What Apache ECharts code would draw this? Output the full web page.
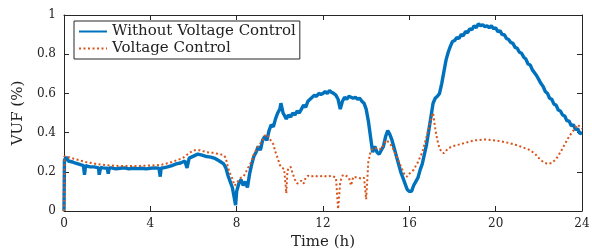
<!DOCTYPE html>
<html>
<head>
<meta charset="utf-8">
<script src="https://cdn.jsdelivr.net/npm/echarts@6/dist/echarts.min.js"></script>
<style>
  html, body { margin: 0; padding: 0; background: #fff; }
  #chart { width: 592px; height: 249px; }
</style>
</head>
<body>
<div id="chart"></div>
<script>
// time (h) and VUF (%)
const blueTime = [0, 0.02, 0.1, 0.2, 0.4, 0.5, 0.8, 0.9, 0.95, 1.0, 1.2, 1.4, 1.6, 1.63, 1.7, 1.8, 2.0, 2.05, 2.1, 2.2, 2.4, 2.6, 2.8, 3.0, 3.2, 3.4, 3.6, 3.8, 4.0, 4.2, 4.4, 4.46, 4.5, 4.6, 4.8, 5.0, 5.2, 5.4, 5.6, 5.7, 5.8, 6.0, 6.2, 6.4, 6.6, 6.8, 7.0, 7.2, 7.4, 7.5, 7.6, 7.7, 7.8, 7.9, 7.95, 8.0, 8.1, 8.2, 8.3, 8.4, 8.5, 8.6, 8.7, 8.8, 8.9, 9.0, 9.1, 9.2, 9.3, 9.4, 9.5, 9.6, 9.7, 9.8, 9.9, 10.0, 10.05, 10.15, 10.3, 10.4, 10.5, 10.6, 10.7, 10.8, 10.9, 11.0, 11.1, 11.2, 11.3, 11.4, 11.5, 11.6, 11.7, 11.8, 11.9, 12.0, 12.1, 12.2, 12.3, 12.4, 12.5, 12.6, 12.7, 12.8, 12.9, 13.0, 13.1, 13.2, 13.3, 13.4, 13.5, 13.6, 13.7, 13.8, 13.9, 14.0, 14.1, 14.2, 14.3, 14.4, 14.5, 14.6, 14.7, 14.8, 14.9, 15.0, 15.1, 15.2, 15.3, 15.4, 15.5, 15.6, 15.7, 15.8, 15.9, 16.0, 16.1, 16.2, 16.3, 16.4, 16.5, 16.6, 16.7, 16.8, 16.9, 17.0, 17.1, 17.2, 17.3, 17.4, 17.5, 17.6, 17.7, 17.8, 17.9, 18.0, 18.1, 18.2, 18.3, 18.4, 18.5, 18.6, 18.7, 18.8, 18.9, 19.0, 19.1, 19.2, 19.3, 19.4, 19.5, 19.6, 19.7, 19.8, 19.9, 20.0, 20.1, 20.2, 20.3, 20.4, 20.5, 20.6, 20.7, 20.8, 20.9, 21.0, 21.1, 21.2, 21.3, 21.4, 21.5, 21.6, 21.7, 21.8, 21.9, 22.0, 22.1, 22.2, 22.3, 22.4, 22.5, 22.6, 22.7, 22.8, 22.9, 23.0, 23.1, 23.2, 23.3, 23.4, 23.5, 23.6, 23.7, 23.8, 23.9, 24.0];
const blueVuf = [0, 0.26, 0.275, 0.255, 0.25, 0.245, 0.235, 0.232, 0.185, 0.232, 0.225, 0.225, 0.22, 0.185, 0.222, 0.22, 0.218, 0.19, 0.22, 0.22, 0.215, 0.218, 0.22, 0.215, 0.218, 0.216, 0.218, 0.215, 0.218, 0.22, 0.218, 0.175, 0.22, 0.22, 0.225, 0.232, 0.24, 0.245, 0.255, 0.22, 0.27, 0.28, 0.29, 0.285, 0.278, 0.275, 0.268, 0.255, 0.24, 0.22, 0.18, 0.15, 0.12, 0.06, 0.03, 0.1, 0.14, 0.16, 0.13, 0.15, 0.12, 0.19, 0.24, 0.28, 0.3, 0.33, 0.31, 0.36, 0.38, 0.36, 0.41, 0.44, 0.43, 0.47, 0.5, 0.52, 0.55, 0.5, 0.47, 0.49, 0.48, 0.5, 0.49, 0.51, 0.5, 0.52, 0.54, 0.53, 0.56, 0.57, 0.58, 0.59, 0.585, 0.6, 0.595, 0.6, 0.61, 0.6, 0.615, 0.605, 0.6, 0.59, 0.57, 0.52, 0.56, 0.58, 0.57, 0.585, 0.58, 0.575, 0.58, 0.57, 0.575, 0.56, 0.55, 0.52, 0.46, 0.38, 0.3, 0.33, 0.3, 0.29, 0.31, 0.33, 0.38, 0.41, 0.39, 0.36, 0.32, 0.28, 0.24, 0.2, 0.17, 0.14, 0.11, 0.1, 0.1, 0.13, 0.15, 0.17, 0.21, 0.24, 0.29, 0.34, 0.41, 0.48, 0.55, 0.575, 0.585, 0.6, 0.65, 0.71, 0.77, 0.81, 0.84, 0.865, 0.87, 0.885, 0.88, 0.9, 0.895, 0.915, 0.91, 0.93, 0.925, 0.945, 0.935, 0.955, 0.945, 0.95, 0.94, 0.945, 0.935, 0.945, 0.93, 0.935, 0.915, 0.92, 0.9, 0.9, 0.88, 0.875, 0.86, 0.855, 0.835, 0.83, 0.81, 0.805, 0.785, 0.775, 0.75, 0.745, 0.72, 0.705, 0.69, 0.67, 0.65, 0.635, 0.61, 0.6, 0.575, 0.57, 0.545, 0.54, 0.515, 0.51, 0.49, 0.485, 0.46, 0.46, 0.435, 0.44, 0.415, 0.42, 0.395, 0.4];

const orangeTime = [0, 0.02, 0.2, 0.5, 1.0, 1.5, 2.0, 2.5, 3.0, 3.5, 4.0, 4.5, 5.0, 5.5, 5.8, 6.0, 6.3, 6.6, 6.9, 7.2, 7.4, 7.5, 7.6, 7.7, 7.8, 7.9, 8.0, 8.1, 8.2, 8.3, 8.4, 8.5, 8.6, 8.7, 8.8, 8.9, 9.0, 9.1, 9.2, 9.3, 9.4, 9.5, 9.6, 9.7, 9.8, 9.9, 10.0, 10.1, 10.2, 10.3, 10.35, 10.4, 10.5, 10.6, 10.7, 10.8, 10.9, 11.0, 11.1, 11.2, 11.3, 11.4, 11.6, 11.8, 12.0, 12.2, 12.4, 12.6, 12.7, 12.8, 12.9, 13.0, 13.2, 13.3, 13.4, 13.6, 13.8, 13.9, 14.0, 14.1, 14.2, 14.3, 14.5, 14.7, 14.9, 15.0, 15.2, 15.4, 15.6, 15.8, 15.9, 16.0, 16.2, 16.4, 16.6, 16.8, 17.0, 17.1, 17.2, 17.3, 17.4, 17.5, 17.6, 17.8, 18.0, 18.5, 19.0, 19.5, 20.0, 20.5, 21.0, 21.5, 21.8, 22.0, 22.2, 22.4, 22.6, 22.8, 23.0, 23.2, 23.4, 23.6, 23.8, 24.0];
const orangeVuf = [0, 0.28, 0.275, 0.265, 0.25, 0.24, 0.233, 0.23, 0.23, 0.23, 0.232, 0.235, 0.25, 0.27, 0.295, 0.31, 0.31, 0.3, 0.297, 0.29, 0.285, 0.27, 0.22, 0.19, 0.165, 0.13, 0.14, 0.16, 0.17, 0.175, 0.19, 0.215, 0.235, 0.255, 0.29, 0.31, 0.33, 0.345, 0.36, 0.385, 0.39, 0.375, 0.355, 0.34, 0.3, 0.27, 0.235, 0.22, 0.215, 0.09, 0.2, 0.22, 0.225, 0.19, 0.16, 0.14, 0.145, 0.155, 0.14, 0.17, 0.18, 0.175, 0.18, 0.175, 0.18, 0.175, 0.18, 0.17, 0.01, 0.15, 0.18, 0.185, 0.17, 0.13, 0.175, 0.17, 0.165, 0.17, 0.06, 0.25, 0.3, 0.32, 0.32, 0.315, 0.36, 0.355, 0.33, 0.28, 0.23, 0.18, 0.175, 0.19, 0.21, 0.25, 0.3, 0.38, 0.47, 0.5, 0.42, 0.36, 0.32, 0.3, 0.295, 0.32, 0.33, 0.345, 0.36, 0.365, 0.36, 0.35, 0.335, 0.315, 0.295, 0.27, 0.25, 0.24, 0.245, 0.265, 0.3, 0.34, 0.38, 0.41, 0.44, 0.42];

const xTicks = [0, 4, 8, 12, 16, 20, 24];
const yTicks = [0, 0.2, 0.4, 0.6, 0.8, 1];

const pair = (ts, vs) => ts.map((t, i) => [t, vs[i]]);

const axisColor = '#262626';
const serif = 'DejaVu Serif';

const chart = echarts.init(document.getElementById('chart'));
chart.setOption({
  animation: false,
  grid: { left: 64, right: 10, top: 15, bottom: 38, outerBoundsMode: 'none' },
  legend: {
    left: 74,
    top: 21,
    orient: 'vertical',
    itemWidth: 28,
    itemHeight: 12,
    itemGap: 2,
    padding: [3, 4, 3, 4],
    borderColor: axisColor,
    borderWidth: 1,
    borderRadius: 0,
    backgroundColor: '#fff',
    itemStyle: { opacity: 0 },
    textStyle: { fontFamily: serif, fontSize: 15, color: '#222' },
    data: ['Without Voltage Control', 'Voltage Control']
  },
  xAxis: [{
    type: 'value', min: 0, max: 24, interval: 4,
    name: 'Time (h)', nameLocation: 'middle', nameGap: 24,
    nameTextStyle: { fontFamily: serif, fontSize: 15, color: '#222' },
    axisLine: { lineStyle: { color: axisColor, width: 1 } },
    axisTick: { inside: true, length: 5, lineStyle: { color: axisColor } },
    axisLabel: { fontFamily: serif, fontSize: 12, color: '#222', margin: 7,
      formatter: v => xTicks.includes(v) ? String(v) : '' },
    splitLine: { show: false }
  }, {
    type: 'value', min: 0, max: 24, interval: 4, position: 'top',
    axisLine: { onZero: false, lineStyle: { color: axisColor, width: 1 } },
    axisTick: { inside: true, length: 5, lineStyle: { color: axisColor } },
    axisLabel: { show: false },
    splitLine: { show: false }
  }],
  yAxis: [{
    type: 'value', min: 0, max: 1, interval: 0.2,
    name: 'VUF (%)', nameLocation: 'middle', nameGap: 33,
    nameTextStyle: { fontFamily: serif, fontSize: 15, color: '#222' },
    axisLine: { show: true, lineStyle: { color: axisColor, width: 1 } },
    axisTick: { show: true, inside: true, length: 5, lineStyle: { color: axisColor } },
    axisLabel: { fontFamily: serif, fontSize: 12, color: '#222', margin: 8,
      formatter: v => String(yTicks.find(t => Math.abs(t - v) < 1e-6) ?? '') },
    splitLine: { show: false }
  }, {
    type: 'value', min: 0, max: 1, interval: 0.2, position: 'right',
    axisLine: { show: true, onZero: false, lineStyle: { color: axisColor, width: 1 } },
    axisTick: { show: true, inside: true, length: 5, lineStyle: { color: axisColor } },
    axisLabel: { show: false },
    splitLine: { show: false }
  }],
  series: [{
    name: 'Without Voltage Control',
    type: 'line',
    showSymbol: false, symbol: 'none',
    data: pair(blueTime, blueVuf),
    lineStyle: { color: '#0072BD', width: 3.4 },
    itemStyle: { color: '#0072BD' }
  }, {
    name: 'Voltage Control',
    type: 'line',
    showSymbol: false, symbol: 'none',
    data: pair(orangeTime, orangeVuf),
    lineStyle: { color: '#D95319', width: 2, type: [2, 2.5] },
    itemStyle: { color: '#D95319' }
  }]
});
</script>
</body>
</html>
